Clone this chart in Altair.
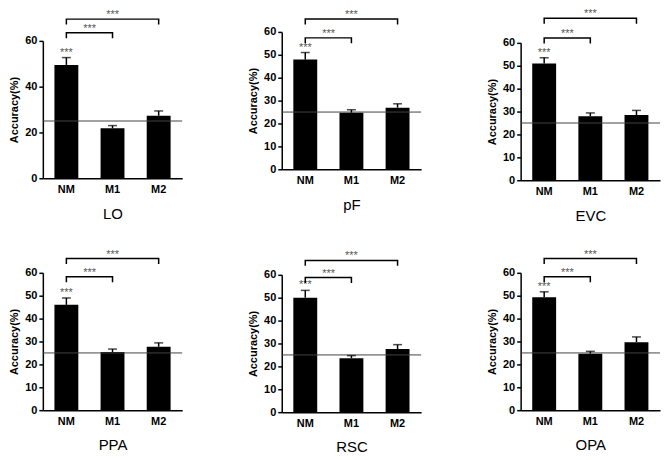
import altair as alt
import pandas as pd

# ---------------- data ----------------
regions = ["LO", "pF", "EVC", "PPA", "RSC", "OPA"]
conditions = ["NM", "M1", "M2"]
mean_NM = [49.5, 47.9, 51.0, 46.0, 50.0, 49.3]
mean_M1 = [21.8, 24.7, 27.9, 25.4, 23.6, 24.7]
mean_M2 = [27.3, 26.9, 28.5, 27.7, 27.6, 29.7]
sem_NM = [3.2, 3.1, 2.5, 3.0, 3.2, 2.4]
sem_M1 = [1.2, 1.3, 1.5, 1.3, 1.1, 1.0]
sem_M2 = [2.1, 1.7, 2.0, 1.7, 1.9, 2.3]
chance_level = 25
sig_label = "***"
# significance brackets (NM vs M2 higher, NM vs M1 lower), in %
bracket_NM_M2 = [69.5, 65.6, 70.7, 66.2, 66.3, 66.2]
bracket_NM_M1 = [63.5, 57.4, 62.1, 58.3, 58.8, 58.3]
y_ticks_LO = [0, 20, 40, 60]
y_ticks_default = [0, 10, 20, 30, 40, 50, 60]

# layout: vertical shift (px, up positive) of each panel's plot area
panel_shift = [0, 9, -2, 0, -2, 0]

FONT = "Liberation Sans"
W, H = 140, 138
DROP = 2.4


def panel(i):
    name = regions[i]
    means = [mean_NM[i], mean_M1[i], mean_M2[i]]
    sems = [sem_NM[i], sem_M1[i], sem_M2[i]]
    bars = pd.DataFrame({
        "cond": conditions,
        "mean": means,
        "top": [m + s for m, s in zip(means, sems)],
    })
    hi, lo = bracket_NM_M2[i], bracket_NM_M1[i]
    br = pd.DataFrame({
        "cond": ["NM", "NM", "M2", "M2", "NM", "NM", "M1", "M1"],
        "y": [hi - DROP, hi, hi, hi - DROP, lo - DROP, lo, lo, lo - DROP],
        "order": [0, 1, 2, 3, 0, 1, 2, 3],
        "grp": ["a"] * 4 + ["b"] * 4,
    })
    ticks = y_ticks_LO if name == "LO" else y_ticks_default
    s = panel_shift[i]
    h = H - s

    xaxis = alt.Axis(
        title=name, titleFont=FONT, titleFontSize=15, titleFontWeight="normal",
        titleColor="black", titlePadding=12,
        labelFont=FONT, labelFontSize=11, labelFontWeight="bold", labelColor="black",
        labelAngle=0, labelPadding=5, ticks=False,
        domainColor="black", domainWidth=1.5,
    )
    yaxis = alt.Axis(
        title="Accuracy(%)", titleFont=FONT, titleFontSize=11, titleFontWeight="bold",
        titleColor="black", titlePadding=5,
        values=ticks, grid=False,
        labelFont=FONT, labelFontSize=11, labelFontWeight="bold", labelColor="black",
        labelPadding=2, tickColor="black", tickSize=4, tickWidth=1.5,
        domainColor="black", domainWidth=1.5,
    )
    yscale = alt.Scale(domain=[0, 60], nice=False, range=[h, -s])

    def X():
        return alt.X("cond:N", sort=conditions,
                     scale=alt.Scale(paddingInner=0.48, paddingOuter=0.25), axis=xaxis)

    def Y(field):
        return alt.Y(field, scale=yscale, axis=yaxis)

    base = alt.Chart(bars)
    bar = base.mark_bar(color="black", size=24).encode(x=X(), y=Y("mean:Q"))
    err = base.mark_rule(color="black", strokeWidth=1.5).encode(
        x=X(), y=Y("mean:Q"), y2="top:Q")
    cap = base.mark_tick(color="black", thickness=1.5, size=9).encode(
        x=X(), y=Y("top:Q"))
    chance = alt.Chart(pd.DataFrame({"c": [chance_level]})).mark_rule(
        color="#444444", strokeWidth=1).encode(y=Y("c:Q"))
    nm_star = alt.Chart(bars[bars["cond"] == "NM"]).mark_text(
        text=sig_label, font=FONT, fontSize=11, color="#555555", dy=-5, baseline="middle"
    ).encode(x=X(), y=Y("top:Q"))
    brackets = alt.Chart(br).mark_line(color="black", strokeWidth=1.5).encode(
        x=X(), y=Y("y:Q"), order="order:Q", detail="grp:N")
    star_hi = alt.Chart(pd.DataFrame({"cond": ["M1"], "y": [hi]})).mark_text(
        text=sig_label, font=FONT, fontSize=11, color="#555555", baseline="middle", dy=-4
    ).encode(x=X(), y=Y("y:Q"))
    star_lo = alt.Chart(pd.DataFrame({"cond": ["M1"], "y": [lo]})).mark_text(
        text=sig_label, font=FONT, fontSize=11, color="#555555", baseline="middle", dy=-4,
        dx=-23
    ).encode(x=X(), y=Y("y:Q"))

    return alt.layer(bar, chance, err, cap, nm_star, brackets, star_hi, star_lo).properties(
        width=W, height=h)


row1 = alt.hconcat(panel(0), panel(1), panel(2), spacing=64)
row2 = alt.hconcat(panel(3), panel(4), panel(5), spacing=64)
chart = alt.vconcat(row1, row2, spacing=25).properties(
    padding={"top": -1, "left": 0, "right": 0, "bottom": 0}, background="white"
).configure_view(stroke=None)

chart.save("out.html", embed_options={"renderer": "svg", "actions": False})
